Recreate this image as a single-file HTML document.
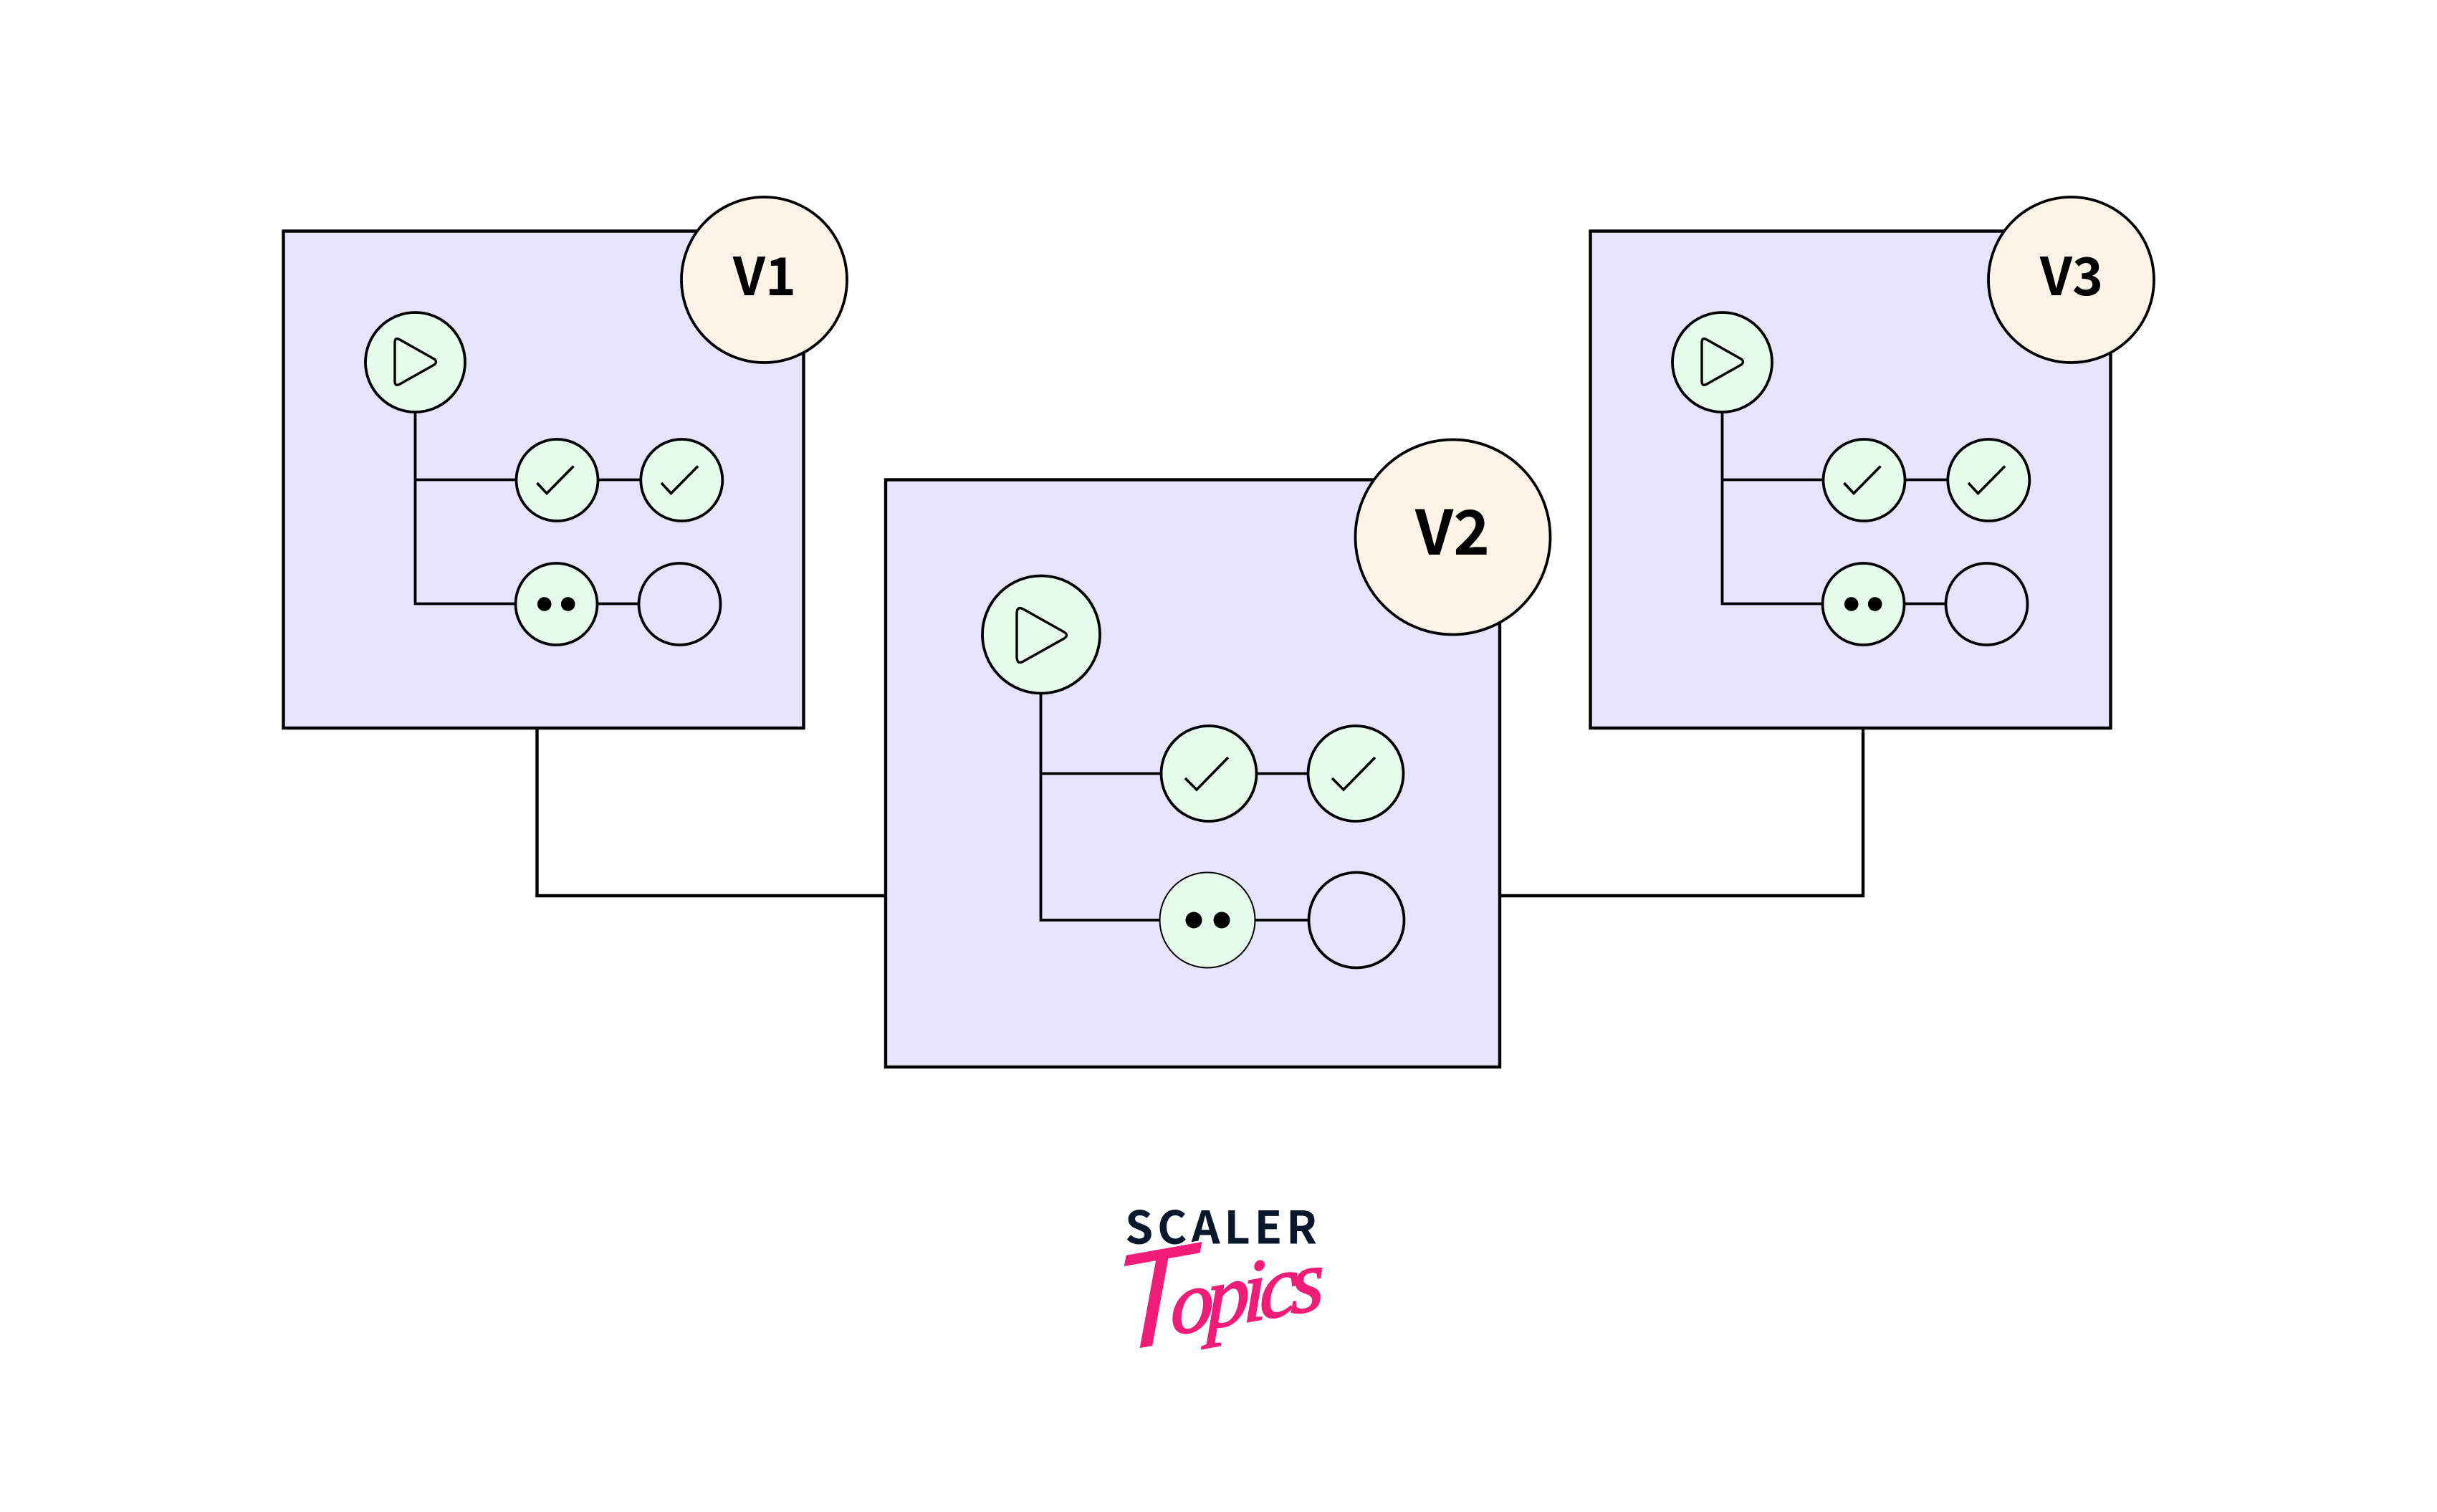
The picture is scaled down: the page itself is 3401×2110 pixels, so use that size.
<!DOCTYPE html>
<html>
<head>
<meta charset="utf-8">
<style>
html,body{margin:0;padding:0;background:#fff;width:3401px;height:2110px;overflow:hidden}
svg{display:block}
.l{font-family:"Noto Sans CJK JP","Liberation Sans",sans-serif;font-weight:700;fill:#000;text-anchor:middle}
</style>
</head>
<body>
<svg width="3401" height="2110" viewBox="0 0 3401 2110" xmlns="http://www.w3.org/2000/svg">
<rect width="3401" height="2110" fill="#fff"/>

<!-- connectors -->
<path d="M749.500 1016V1250H1236" fill="none" stroke="#000" stroke-width="4.4"/>
<path d="M2600 1016V1250H2094" fill="none" stroke="#000" stroke-width="4.4"/>

<!-- V1 -->
<g stroke="#000" stroke-width="3.8" fill="none">
<rect x="395.5" y="322.500" width="726" height="693.500" fill="#e6e4fd" stroke-width="4.4"/>
<path d="M579.500 575V842.5H776M579.500 669.5H777M835 669.5H895M833 842.5H892"/>
<circle cx="579.500" cy="505.500" r="69.500" fill="#e5fdea"/>
<path d="M551 478Q551 470 558 474L606 501Q611 505 606 509L558 536Q551 540 551 532Z" fill="none" stroke-width="3.4"/>
<circle cx="777.5" cy="670" r="57" fill="#e5fdea"/>
<circle cx="951.3" cy="670" r="57" fill="#e5fdea"/>
<circle cx="776.500" cy="843" r="57" fill="#e5fdea"/>
<circle cx="948.5" cy="843" r="57" fill="none"/>
<path d="M749.5 674L763 688.5L800.5 650.5M923 674L936.5 688.5L974 650.5" stroke-width="3.6"/>
<circle cx="759.7" cy="843" r="9.8" fill="#000" stroke="none"/>
<circle cx="792.7" cy="843" r="9.8" fill="#000" stroke="none"/>
<circle cx="1066.500" cy="390.500" r="115.500" fill="#fdf4e7"/>
</g>
<text class="l" x="1067" y="412" font-size="73">V1</text>

<!-- V3 -->
<g stroke="#000" stroke-width="3.8" fill="none" transform="translate(1824 0)">
<rect x="395.5" y="322.500" width="726" height="693.500" fill="#e6e4fd" stroke-width="4.4"/>
<path d="M579.500 575V842.5H776M579.500 669.5H777M835 669.5H895M833 842.5H892"/>
<circle cx="579.500" cy="505.500" r="69.500" fill="#e5fdea"/>
<path d="M551 478Q551 470 558 474L606 501Q611 505 606 509L558 536Q551 540 551 532Z" fill="none" stroke-width="3.4"/>
<circle cx="777.5" cy="670" r="57" fill="#e5fdea"/>
<circle cx="951.3" cy="670" r="57" fill="#e5fdea"/>
<circle cx="776.500" cy="843" r="57" fill="#e5fdea"/>
<circle cx="948.5" cy="843" r="57" fill="none"/>
<path d="M749.5 674L763 688.5L800.5 650.5M923 674L936.5 688.5L974 650.5" stroke-width="3.6"/>
<circle cx="759.7" cy="843" r="9.8" fill="#000" stroke="none"/>
<circle cx="792.7" cy="843" r="9.8" fill="#000" stroke="none"/>
<circle cx="1066.500" cy="390.500" r="115.500" fill="#fdf4e7"/>
</g>
<text class="l" x="2891" y="412" font-size="73">V3</text>

<!-- V2 -->
<g stroke="#000" stroke-width="3.8" fill="none">
<rect x="1236" y="669.500" width="857" height="819.500" fill="#e6e4fd" stroke-width="4.4"/>
<path d="M1452.5 968V1284H1618M1452.5 1079.5H1620M1753 1079.5H1826M1752 1284H1827"/>
<circle cx="1453" cy="885.500" r="82" fill="#e5fdea"/>
<path d="M1419 857Q1419 845 1428 850L1485 882Q1492 886.500 1485 891L1428 923Q1419 928 1419 916Z" fill="none" stroke-width="3.4"/>
<circle cx="1687" cy="1079.500" r="66.500" fill="#e5fdea"/>
<circle cx="1892" cy="1079.500" r="66.500" fill="#e5fdea"/>
<circle cx="1685" cy="1284" r="66.500" fill="#e5fdea" stroke-width="2"/>
<circle cx="1893" cy="1284" r="66.500" fill="none"/>
<path d="M1654 1086L1670 1102L1714 1057M1859 1086L1875 1102L1919 1057" stroke-width="3.6"/>
<circle cx="1666" cy="1284" r="11.500" fill="#000" stroke="none"/>
<circle cx="1705" cy="1284" r="11.500" fill="#000" stroke="none"/>
<circle cx="2027.500" cy="749.500" r="136" fill="#fdf4e7"/>
</g>
<text class="l" x="2027" y="774" font-size="86">V2</text>

<!-- logo -->
<text x="1570" y="1735.500" font-family="'Noto Sans CJK JP','Liberation Sans',sans-serif" font-weight="700" font-size="63" fill="#0a182b" textLength="268" lengthAdjust="spacing">SCALER</text>
<g transform="translate(1552 1888) rotate(-10) skewX(-10)" font-style="italic" fill="#f01c78">
<text x="0" y="0"><tspan font-family="'Liberation Sans',sans-serif" font-size="190" stroke="#fff" stroke-width="5" paint-order="stroke">T</tspan><tspan font-family="'Liberation Serif',serif" font-size="122" dx="-33" dy="-10" letter-spacing="-10" stroke="#f01c78" stroke-width="2">opics</tspan></text>
</g>
</svg>
</body>
</html>
